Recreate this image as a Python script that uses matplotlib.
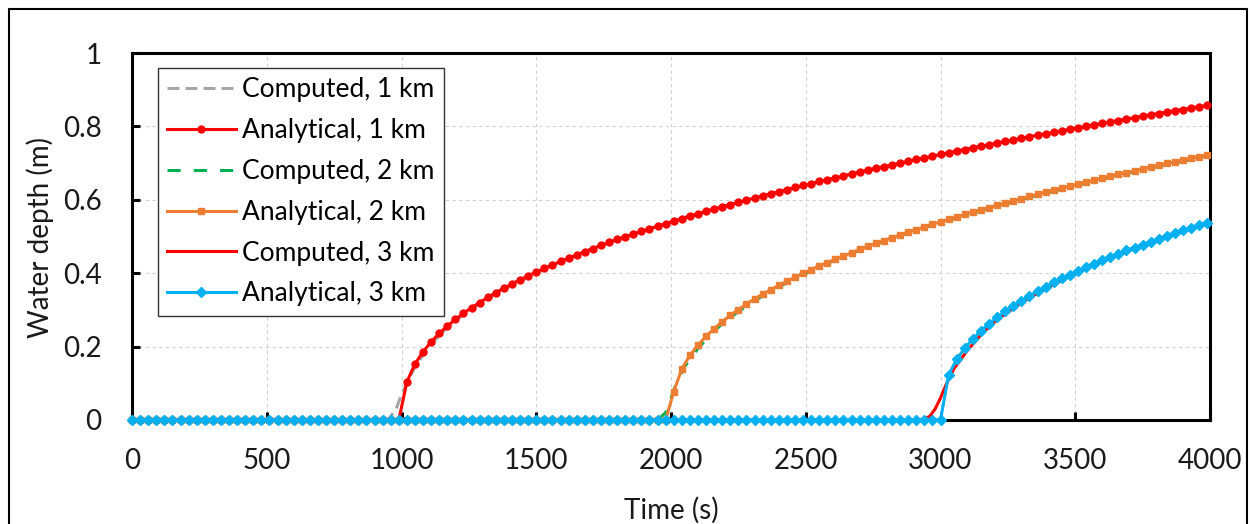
import numpy as np
import matplotlib
matplotlib.use("Agg")
import matplotlib.pyplot as plt
from matplotlib.patches import Rectangle

# --- Data ---
# analytical solutions, output every 30 s (0 .. 3990 s)
time_s = np.arange(0, 4000, 30)

ana_1km = [0.0] * 34 + [
    0.104, 0.153, 0.186, 0.213, 0.236, 0.256, 0.274, 0.291, 0.306, 0.320,
    0.334, 0.347, 0.359, 0.371, 0.382, 0.393, 0.403, 0.413, 0.423, 0.432,
    0.441, 0.450, 0.459, 0.467, 0.476, 0.484, 0.492, 0.499, 0.507, 0.514,
    0.521, 0.528, 0.535, 0.542, 0.549, 0.556, 0.562, 0.569, 0.575, 0.581,
    0.587, 0.593, 0.599, 0.605, 0.611, 0.617, 0.622, 0.628, 0.634, 0.639,
    0.644, 0.650, 0.655, 0.660, 0.665, 0.671, 0.676, 0.681, 0.686, 0.690,
    0.695, 0.700, 0.705, 0.710, 0.714, 0.719, 0.724, 0.728, 0.733, 0.737,
    0.742, 0.746, 0.750, 0.755, 0.759, 0.763, 0.768, 0.772, 0.776, 0.780,
    0.784, 0.788, 0.792, 0.796, 0.800, 0.804, 0.808, 0.812, 0.816, 0.820,
    0.824, 0.828, 0.832, 0.835, 0.839, 0.843, 0.846, 0.850, 0.854, 0.857,
]

ana_2km = [0.0] * 67 + [
    0.077, 0.139, 0.176, 0.204, 0.228, 0.249, 0.268, 0.285, 0.301, 0.316,
    0.330, 0.343, 0.355, 0.367, 0.378, 0.389, 0.400, 0.410, 0.420, 0.429,
    0.438, 0.447, 0.456, 0.465, 0.473, 0.481, 0.489, 0.497, 0.504, 0.512,
    0.519, 0.526, 0.533, 0.540, 0.547, 0.553, 0.560, 0.567, 0.573, 0.579,
    0.585, 0.591, 0.597, 0.603, 0.609, 0.615, 0.621, 0.626, 0.632, 0.637,
    0.643, 0.648, 0.653, 0.659, 0.664, 0.669, 0.674, 0.679, 0.684, 0.689,
    0.694, 0.699, 0.703, 0.708, 0.713, 0.717, 0.722,
]

ana_3km = [0.0] * 101 + [
    0.123, 0.165, 0.196, 0.221, 0.243, 0.262, 0.280, 0.296, 0.311, 0.325,
    0.338, 0.351, 0.363, 0.375, 0.386, 0.396, 0.406, 0.416, 0.426, 0.435,
    0.444, 0.453, 0.462, 0.470, 0.478, 0.486, 0.494, 0.502, 0.509, 0.517,
    0.524, 0.531, 0.538,
]

# computed (numerical) results
comp_1km_t = [0, 950, 980, 1000, 1020, 1050, 1100, 1150, 1200, 1300, 1400, 1500,
              1600, 1700, 1800, 1900, 2000, 2200, 2400, 2600, 2800, 3000,
              3200, 3400, 3600, 3800, 4000]
comp_1km_h = [0.0, 0.0, 0.03, 0.07, 0.10, 0.145, 0.198, 0.238, 0.271, 0.322, 0.363, 0.400,
              0.434, 0.464, 0.491, 0.516, 0.539, 0.582, 0.621, 0.658, 0.691, 0.723,
              0.753, 0.781, 0.808, 0.834, 0.858]

comp_2km_t = [0, 1950, 1980, 2000, 2020, 2050, 2100, 2150, 2200, 2300, 2400, 2500,
              2600, 2700, 2800, 2900, 3000, 3200, 3400, 3600, 3800, 4000]
comp_2km_h = [0.0, 0.0, 0.02, 0.06, 0.10, 0.145, 0.195, 0.235, 0.269, 0.321, 0.363, 0.399,
              0.433, 0.463, 0.490, 0.515, 0.538, 0.581, 0.620, 0.657, 0.690, 0.721]

comp_3km_t = [0, 2930, 2960, 2980, 3000, 3020, 3050, 3100, 3150, 3200, 3300, 3400,
              3500, 3600, 3700, 3800, 3900, 4000]
comp_3km_h = [0.0, 0.0, 0.01, 0.03, 0.06, 0.095, 0.14, 0.19, 0.232, 0.267, 0.320, 0.362,
              0.399, 0.432, 0.462, 0.489, 0.514, 0.537]

x_ticks = [0, 500, 1000, 1500, 2000, 2500, 3000, 3500, 4000]
y_ticks = [0, 0.2, 0.4, 0.6, 0.8, 1.0]
y_tick_labels = ["0", "0.2", "0.4", "0.6", "0.8", "1"]

# --- Plot ---
plt.rcParams["font.family"] = ["Lato", "DejaVu Sans"]
W, H = 1250, 524
fig = plt.figure(figsize=(W / 100, H / 100), dpi=100)
ax = fig.add_axes([132 / W, 104 / H, 1078 / W, 367 / H])

lw = 2.2
common = dict(lw=lw, zorder=3, clip_on=False)
ax.plot(comp_1km_t, comp_1km_h, color="#A5A5A5", dashes=(3.9, 2.0),
        label="Computed, 1 km", **common)
ax.plot(time_s, ana_1km, color="#FF0000", marker="o", ms=5.0,
        label="Analytical, 1 km", **common)
ax.plot(comp_2km_t, comp_2km_h, color="#00B050", dashes=(4.3, 4.3),
        label="Computed, 2 km", **common)
ax.plot(time_s, ana_2km, color="#ED7D31", marker="s", ms=4.8,
        label="Analytical, 2 km", **common)
ax.plot(comp_3km_t, comp_3km_h, color="#FF0000",
        label="Computed, 3 km", **common)
ax.plot(time_s, ana_3km, color="#00B0F0", marker="D", ms=5.6,
        label="Analytical, 3 km", **common)

ax.set_xlim(0, 4000)
ax.set_ylim(0, 1)
ax.set_xticks(x_ticks)
ax.set_yticks(y_ticks)
ax.set_yticklabels(y_tick_labels)
ax.grid(True, color="#D0D0D0", lw=0.8, ls=(0, (3, 3)))
ax.set_axisbelow(True)
for s in ax.spines.values():
    s.set_linewidth(2.2)
    s.set_color("black")
ax.tick_params(direction="in", length=6, width=2.2, labelsize=20,
               colors="black", labelcolor="#1a1a1a")
ax.tick_params(axis="y", pad=22)
ax.tick_params(axis="x", pad=20)

fig.text(40 / W, 1 - 237 / H, "Water depth (m)", rotation=90, fontsize=20,
         ha="center", va="center", color="#1a1a1a")
fig.text(671 / W, 1 - 510 / H, "Time (s)", fontsize=20,
         ha="center", va="center", color="#1a1a1a")

leg = ax.legend(loc="upper left", bbox_to_anchor=(0.024, 0.959),
                borderaxespad=0, fontsize=19, handlelength=2.6,
                handletextpad=0.25, borderpad=0.35, labelspacing=0.6,
                fancybox=False, framealpha=1)
leg.get_frame().set_edgecolor("#333333")
leg.get_frame().set_linewidth(1.0)
leg.set_zorder(5)

# outer chart border (bottom edge lies outside the image)
fig.patches.append(Rectangle((9 / W, -0.05), 1238 / W, 1 - 9 / H + 0.05,
                             transform=fig.transFigure, fill=False,
                             edgecolor="black", lw=1.5))

fig.savefig("out.png", dpi=100)
